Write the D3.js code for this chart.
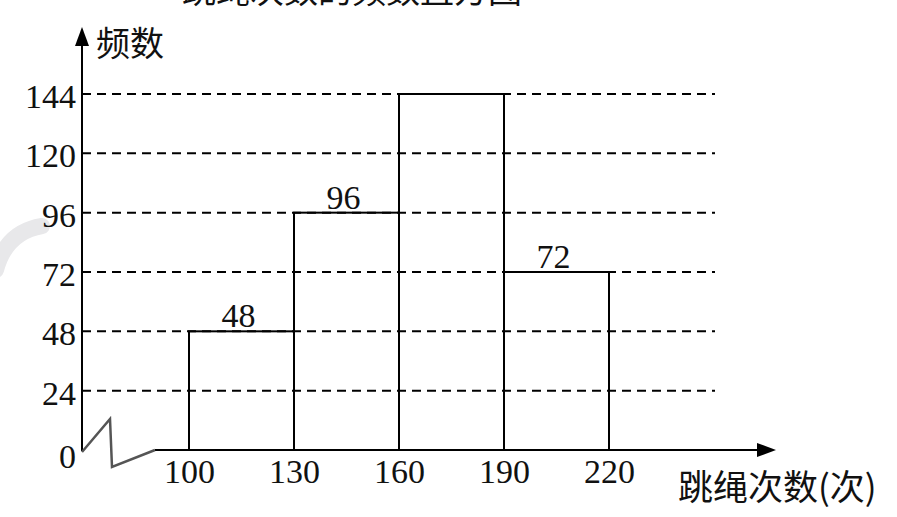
<!DOCTYPE html>
<html><head><meta charset="utf-8">
<script src="https://cdn.jsdelivr.net/npm/d3@7"></script>
<style>
body{margin:0;background:#fff;}
svg{display:block;}
</style></head>
<body>
<svg id="chart" width="897" height="517"></svg>
<script>
const title = "跳绳次数的频数直方图";
const yTitle = "频数";
const xTitle = "跳绳次数(次)";
const binEdges = [100, 130, 160, 190, 220];
const counts = [48, 96, 144, 72];
const barLabels = ["48", "96", "", "72"];
const yTicks = [0, 24, 48, 72, 96, 120, 144];

const SERIF = '"Liberation Serif", serif';
const CJK = '"Noto Sans CJK SC", sans-serif';

const svg = d3.select("#chart");
const x = d3.scaleLinear().domain([100, 220]).range([189, 609]);
const y = d3.scaleLinear().domain([0, 144]).range([450, 94]);
const x0 = 82, y0 = y(0);

// faint watermark arc
svg.append("path")
  .attr("d", "M -4 270 Q 6 232 42 226")
  .attr("fill", "none").attr("stroke", "#e8e8ea").attr("stroke-width", 16).attr("stroke-linecap", "round");

// title (cut off at top, as in the source image)
svg.append("text").style("font-family", CJK)
  .attr("x", 522).attr("y", 3).attr("text-anchor", "end")
  .style("font-size", "34px").attr("fill", "#111").text(title);

// dashed grid lines
svg.append("g").selectAll("line").data(yTicks.filter(d => d > 0)).join("line")
  .attr("x1", x0).attr("x2", 715)
  .attr("y1", d => y(d)).attr("y2", d => y(d))
  .attr("stroke", "#000").attr("stroke-width", 2).attr("stroke-dasharray", "9,6");

// bars
const bins = counts.map((c, i) => ({x0: binEdges[i], x1: binEdges[i + 1], v: c, label: barLabels[i]}));
svg.append("g").selectAll("rect").data(bins).join("rect")
  .attr("x", d => x(d.x0)).attr("width", d => x(d.x1) - x(d.x0))
  .attr("y", d => y(d.v)).attr("height", d => y0 - y(d.v))
  .attr("fill", "none").attr("stroke", "#000").attr("stroke-width", 2);

// bar labels
svg.append("g").selectAll("text").data(bins.filter(d => d.label)).join("text")
  .style("font-family", SERIF).style("font-size", "34px")
  .attr("x", d => (x(d.x0) + x(d.x1)) / 2 - 3)
  .attr("y", d => y(d.v) - 4)
  .attr("text-anchor", "middle").attr("fill", "#111")
  .text(d => d.label);

// y axis line + arrow
svg.append("line").attr("x1", x0).attr("x2", x0).attr("y1", y0 + 1).attr("y2", 40)
  .attr("stroke", "#000").attr("stroke-width", 2);
svg.append("path").attr("d", `M ${x0} 27 L ${x0 - 7} 46 L ${x0 + 7} 46 Z`).attr("fill", "#000");

// x axis line + arrow
svg.append("line").attr("x1", 155).attr("x2", 762).attr("y1", y0).attr("y2", y0)
  .attr("stroke", "#000").attr("stroke-width", 2);
svg.append("path").attr("d", `M 776 ${y0} L 757 ${y0 - 7} L 757 ${y0 + 7} Z`).attr("fill", "#000");

// axis break zigzag
svg.append("path").attr("d", `M ${x0} ${y0 + 2} L 110 419 L 112 467 L 155 ${y0}`)
  .attr("fill", "none").attr("stroke", "#555").attr("stroke-width", 2.5);

// y tick labels
const yAxis = svg.append("g").attr("transform", `translate(${x0},0)`)
  .call(d3.axisLeft(y).tickValues(yTicks).tickSize(0).tickPadding(6).tickFormat(d3.format("d")));
yAxis.select(".domain").remove();
yAxis.selectAll("text").style("font-family", SERIF).style("font-size", "34px").attr("fill", "#111")
  .attr("dy", d => d === 0 ? "0.5em" : "0.4em");

// x tick labels
const xAxis = svg.append("g").attr("transform", `translate(0,${y0})`)
  .call(d3.axisBottom(x).tickValues(binEdges).tickSize(0).tickPadding(9).tickFormat(d3.format("d")));
xAxis.select(".domain").remove();
xAxis.selectAll("text").style("font-family", SERIF).style("font-size", "34px").attr("fill", "#111");

// axis titles
svg.append("text").style("font-family", CJK).attr("x", 96).attr("y", 56)
  .style("font-size", "34px").attr("fill", "#111").text(yTitle);
svg.append("text").style("font-family", CJK).attr("x", 678).attr("y", 500)
  .style("font-size", "35px").attr("fill", "#111").text(xTitle);
</script>
</body></html>
